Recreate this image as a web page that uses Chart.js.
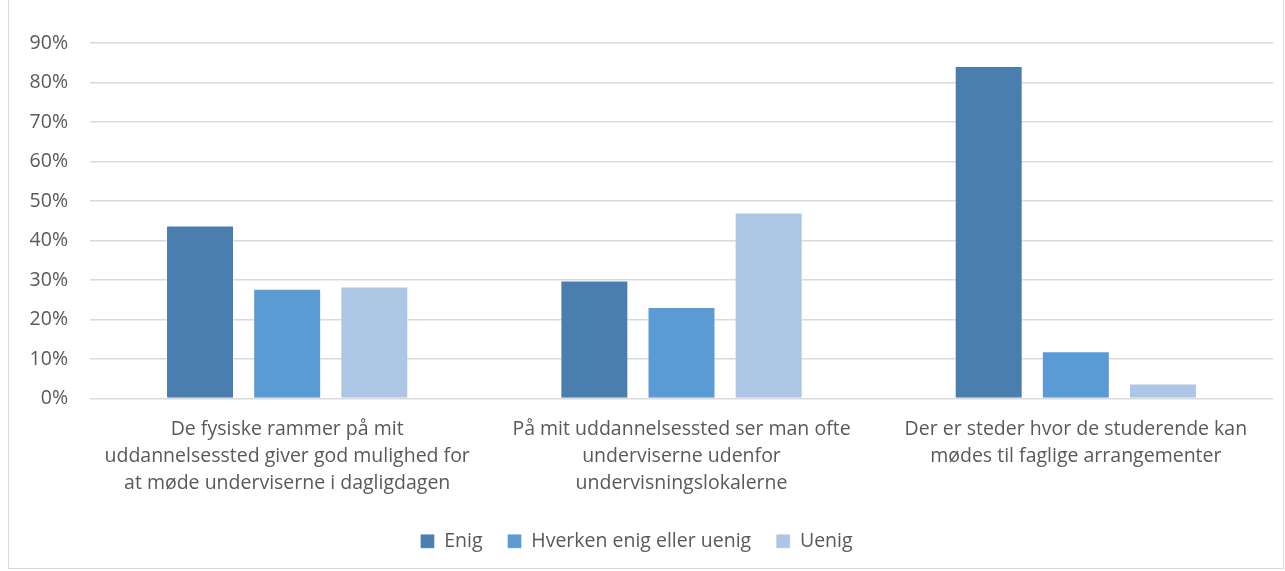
<!DOCTYPE html>
<html>
<head>
<meta charset="utf-8">
<script src="https://cdn.jsdelivr.net/npm/chart.js@4"></script>
<style>
    html, body { margin: 0; padding: 0; background: #fff; }
    #frame {
        position: absolute;
        left: 8px; top: -2px;
        width: 1274px; height: 569px;
        border: 1px solid #d9d9d9;
    }
    #wrap { position: absolute; left: 0; top: 0; width: 1285px; height: 571px; }
</style>
</head>
<body>
<div id="frame"></div>
<div id="wrap"><canvas id="chart"></canvas></div>
<script>
// data
const categories = [
    ['De fysiske rammer på mit', 'uddannelsessted giver god mulighed for', 'at møde underviserne i dagligdagen'],
    ['På mit uddannelsessted ser man ofte', 'underviserne udenfor', 'undervisningslokalerne'],
    ['Der er steder hvor de studerende kan', 'mødes til faglige arrangementer']
];
const enig = [43.8, 29.9, 84.2];
const hverken = [27.8, 23.2, 12.0];
const uenig = [28.4, 47.1, 3.8];
const seriesNames = ['Enig', 'Hverken enig eller uenig', 'Uenig'];

const textColor = '#595959';
const gridColor = '#d9d9d9';
const fontFamily = '"Open Sans", sans-serif';

function dataset(label, data, color) {
    return {
        label: label,
        data: data,
        backgroundColor: color,
        borderColor: 'rgba(255,255,255,0.35)',
        borderWidth: 1,
        categoryPercentage: 0.663,
        barPercentage: 0.78
    };
}

const ctx = document.getElementById('chart').getContext('2d');
new Chart(ctx, {
    type: 'bar',
    data: {
        labels: categories,
        datasets: [
            dataset(seriesNames[0], enig, '#4a7eae'),
            dataset(seriesNames[1], hverken, '#5b9bd5'),
            dataset(seriesNames[2], uenig, '#adc6e5')
        ]
    },
    options: {
        responsive: true,
        maintainAspectRatio: false,
        animation: false,
        layout: { padding: { top: 43, right: 12, bottom: 10, left: 0 } },
        scales: {
            x: {
                grid: { display: false },
                border: { display: false },
                ticks: {
                    color: textColor,
                    font: { family: fontFamily, size: 19.5, lineHeight: 1.4 },
                    padding: 9,
                    maxRotation: 0,
                    autoSkip: false
                }
            },
            y: {
                min: 0,
                max: 90,
                afterFit: function(scale) { scale.width = 90; },
                grid: { color: gridColor, lineWidth: 1.5, drawTicks: false },
                border: { display: false },
                ticks: {
                    stepSize: 10,
                    color: textColor,
                    font: { family: fontFamily, size: 19.5 },
                    padding: 22,
                    callback: function(v) { return v + '%'; }
                }
            }
        },
        plugins: {
            legend: {
                position: 'bottom',
                labels: {
                    color: textColor,
                    font: { family: fontFamily, size: 19.5 },
                    boxWidth: 14,
                    boxHeight: 14,
                    padding: 25
                }
            },
            tooltip: { enabled: false }
        }
    }
});
</script>
</body>
</html>
